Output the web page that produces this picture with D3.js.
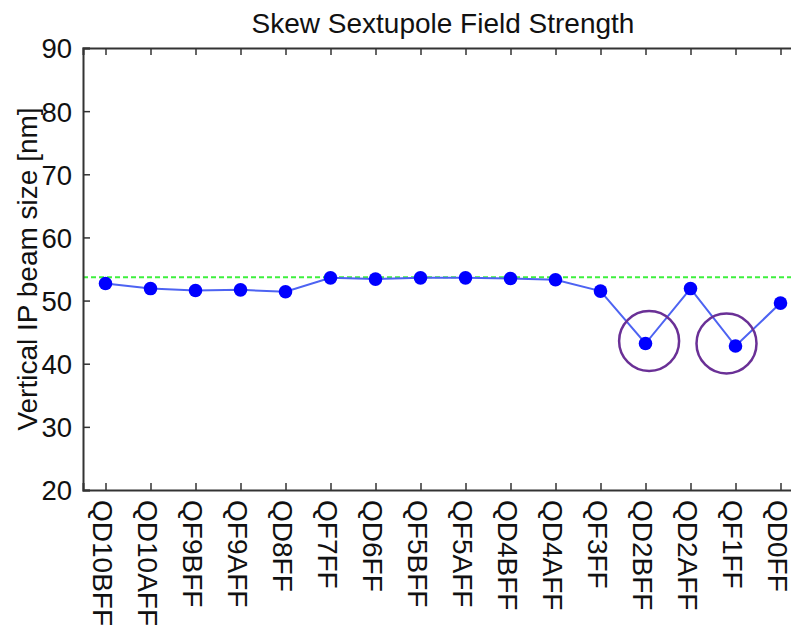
<!DOCTYPE html>
<html>
<head>
<meta charset="utf-8">
<script src="https://cdn.jsdelivr.net/npm/d3@7"></script>
<style>
  html, body { margin: 0; padding: 0; background: #fff; }
  svg { display: block; }
  text { font-family: "Liberation Sans", Arial, Helvetica, sans-serif; fill: #111; }
</style>
</head>
<body>
<svg id="chart" width="791" height="625"></svg>
<script>
// Magnet names along the final-focus line
const magnets = ["QD10BFF", "QD10AFF", "QF9BFF", "QF9AFF", "QD8FF", "QF7FF", "QD6FF",
  "QF5BFF", "QF5AFF", "QD4BFF", "QD4AFF", "QF3FF", "QD2BFF", "QD2AFF", "QF1FF", "QD0FF"];

// Vertical IP beam size [nm] after scanning the skew sextupole at each magnet
const beamSize = [52.7, 51.9, 51.6, 51.7, 51.4, 53.6, 53.4, 53.6, 53.6, 53.5, 53.3,
  51.5, 43.2, 51.9, 42.8, 49.6];

// Reference level (dashed green line)
const referenceSize = 53.7;

// Highlighted points: magnet position (1-based, fractional) and beam size
const highlightPos = [13.08, 14.8];
const highlightVal = [43.6, 43.2];

const yTicks = [20, 30, 40, 50, 60, 70, 80, 90];

const svg = d3.select("#chart");
const m = { left: 83, top: 48, bottom: 490, right: 803 };

const x = d3.scaleLinear().domain([0.5, magnets.length + 0.5]).range([m.left, m.right]);
const y = d3.scaleLinear().domain([20, 90]).range([m.bottom, m.top]);

// Title
svg.append("text")
  .attr("x", (m.left + m.right) / 2).attr("y", 33)
  .attr("text-anchor", "middle")
  .style("font-size", "28px")
  .text("Skew Sextupole Field Strength");

// Reference line
svg.append("line")
  .attr("x1", m.left).attr("x2", m.right)
  .attr("y1", y(referenceSize)).attr("y2", y(referenceSize))
  .attr("stroke", "#3ef03e").attr("stroke-width", 2)
  .attr("stroke-dasharray", "5,3");

// Data line
const line = d3.line().x((d, i) => x(i + 1)).y(d => y(d));
svg.append("path")
  .datum(beamSize)
  .attr("d", line)
  .attr("fill", "none")
  .attr("stroke", "#4d63f2").attr("stroke-width", 2);

svg.selectAll("circle.pt")
  .data(beamSize)
  .join("circle")
  .attr("class", "pt")
  .attr("cx", (d, i) => x(i + 1))
  .attr("cy", d => y(d))
  .attr("r", 6.8)
  .attr("fill", "#0000ff");

// Highlight rings
svg.selectAll("circle.ring")
  .data(highlightPos)
  .join("circle")
  .attr("class", "ring")
  .attr("cx", d => x(d))
  .attr("cy", (d, i) => y(highlightVal[i]))
  .attr("r", 30)
  .attr("fill", "none")
  .attr("stroke", "#6a3096").attr("stroke-width", 2.5);

// Axes box
const axisColor = "#333";
const xTickVals = d3.range(1, magnets.length + 1);

const gLeft = svg.append("g").attr("transform", `translate(${m.left},0)`)
  .call(d3.axisLeft(y).tickValues(yTicks).tickSize(-7).tickPadding(11).tickFormat(d3.format("d")));
const gRight = svg.append("g").attr("transform", `translate(${m.right},0)`)
  .call(d3.axisRight(y).tickValues(yTicks).tickSize(-7).tickFormat(""));
const gTop = svg.append("g").attr("transform", `translate(0,${m.top})`)
  .call(d3.axisTop(x).tickValues(xTickVals).tickSize(-7).tickFormat(""));
const gBottom = svg.append("g").attr("transform", `translate(0,${m.bottom})`)
  .call(d3.axisBottom(x).tickValues(xTickVals).tickSize(-7).tickFormat((d) => magnets[d - 1]));

[gLeft, gRight, gTop, gBottom].forEach(g => {
  g.select(".domain").attr("stroke", axisColor).attr("stroke-width", 2);
  g.selectAll(".tick line").attr("stroke", axisColor).attr("stroke-width", 1.5);
});

gLeft.selectAll(".tick text")
  .style("font-size", "27.5px").style("font-family", "Liberation Sans, Arial, sans-serif")
  .attr("fill", "#111").attr("dy", "0.36em");

gBottom.selectAll(".tick text")
  .style("font-size", "28px").style("font-family", "Liberation Sans, Arial, sans-serif")
  .attr("fill", "#111")
  .attr("text-anchor", "start")
  .attr("x", 0).attr("y", 0).attr("dy", 0)
  .attr("transform", "translate(0,10) rotate(90) translate(0,13)");

// Y axis label
svg.append("text")
  .attr("transform", `translate(37,269) rotate(-90)`)
  .attr("text-anchor", "middle")
  .style("font-size", "28px")
  .text("Vertical IP beam size [nm]");
</script>
</body>
</html>
